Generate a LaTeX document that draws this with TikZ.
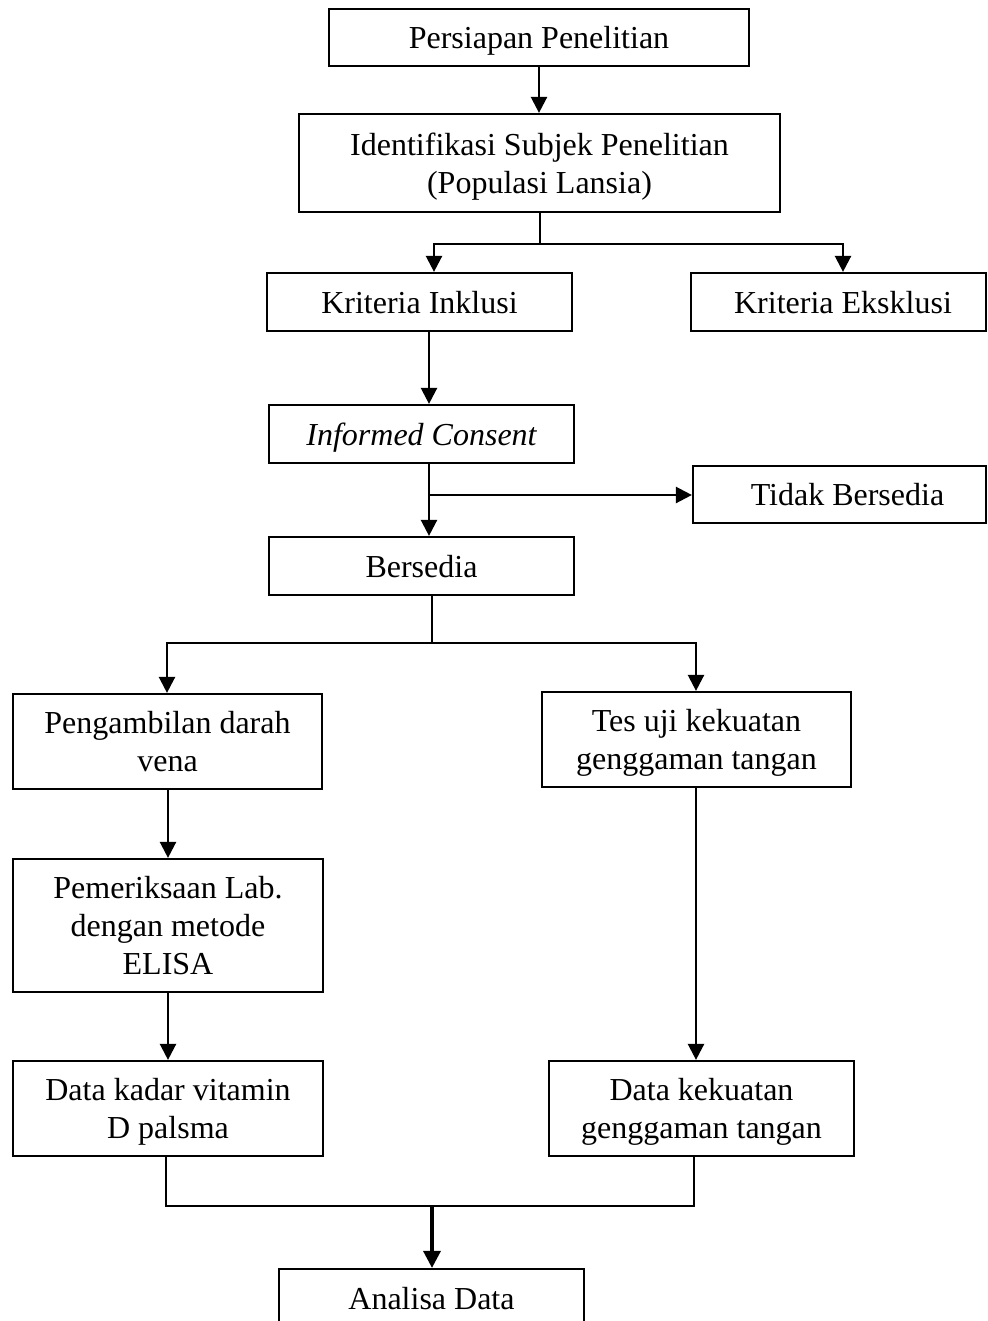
\documentclass[tikz,border=0pt]{standalone}
\usepackage{fontspec}
\setmainfont{Liberation Serif}
\usetikzlibrary{arrows.meta}
\begin{document}
\begin{tikzpicture}[x=0.5pt,y=-0.5pt,
  box/.style={draw=black,line width=1.1pt,inner sep=0pt,align=center,text depth=0pt,
    font=\fontsize{16pt}{19pt}\selectfont},
  ln/.style={draw=black,line width=1.2pt},
  arr/.style={ln,-{Triangle[width=8pt,length=8pt]}},
  thickarr/.style={draw=black,line width=1.7pt,-{Triangle[width=8.5pt,length=8.5pt]}}]
\useasboundingbox (0,0) rectangle (987,1321);
\clip (0,0) rectangle (987,1321);
\fill[white] (0,0) rectangle (987,1321);

\node[box,minimum width=210pt,minimum height=28.5pt] (persiapan) at (539,37.5) {Persiapan Penelitian};
\node[box,minimum width=240.5pt,minimum height=49pt] (ident) at (539.5,163) {Identifikasi Subjek Penelitian\\(Populasi Lansia)};
\node[box,minimum width=152.5pt,minimum height=29pt] (inklusi) at (419.5,302) {Kriteria Inklusi};
\node[box,minimum width=147.5pt,minimum height=29pt] (eksklusi) at (838.5,302) {\hspace*{4.5pt}Kriteria Eksklusi};
\node[box,minimum width=152.5pt,minimum height=29pt] (informed) at (421.5,434) {\itshape Informed Consent};
\node[box,minimum width=146.5pt,minimum height=28.5pt] (tidak) at (839.5,494.5) {\hspace*{8pt}Tidak Bersedia};
\node[box,minimum width=152.5pt,minimum height=29pt] (bersedia) at (421.5,566) {Bersedia};
\node[box,minimum width=154.5pt,minimum height=47.5pt] (ambil) at (167.5,741.5) {Pengambilan darah\\vena};
\node[box,minimum width=154.5pt,minimum height=47.5pt] (tes) at (696.5,739.5) {Tes uji kekuatan\\genggaman tangan};
\node[box,minimum width=155pt,minimum height=66.5pt] (periksa) at (168,925.5) {Pemeriksaan Lab.\\dengan metode\\ELISA};
\node[box,minimum width=155pt,minimum height=47.5pt] (kadar) at (168,1108.5) {Data kadar vitamin\\D palsma};
\node[box,minimum width=152.5pt,minimum height=47.5pt] (kekuatan) at (701.5,1108.5) {Data kekuatan\\genggaman tangan};
\node[box,minimum width=152.5pt,minimum height=29pt] (analisa) at (431.5,1298) {Analisa Data};

\coordinate (xa) at (539,0);
\coordinate (xb) at (540,244);
\coordinate (xinkl) at (434,0);
\coordinate (xeks) at (843,0);
\coordinate (xc) at (429,495);
\coordinate (xd) at (432,643);
\coordinate (xl) at (167,0);
\coordinate (xr) at (696,0);
\coordinate (xl2) at (168,0);
\coordinate (xk) at (166,0);
\coordinate (xm) at (694,0);
\coordinate (ym) at (432,1206);

\draw[arr] (persiapan.south -| xa) -- (ident.north -| xa);
\draw[ln] (ident.south -| xb) -- (xb);
\draw[arr] (xb) -| (inklusi.north -| xinkl);
\draw[arr] (xb) -| (eksklusi.north -| xeks);
\draw[arr] (inklusi.south -| xc) -- (informed.north -| xc);
\draw[arr] (informed.south -| xc) -- (bersedia.north -| xc);
\draw[arr] (xc) -- (tidak.west |- xc);
\draw[ln] (bersedia.south -| xd) -- (xd);
\draw[arr] (xd) -| (ambil.north -| xl);
\draw[arr] (xd) -| (tes.north -| xr);
\draw[arr] (ambil.south -| xl2) -- (periksa.north -| xl2);
\draw[arr] (periksa.south -| xl2) -- (kadar.north -| xl2);
\draw[arr] (tes.south -| xr) -- (kekuatan.north -| xr);
\draw[ln] (kadar.south -| xk) |- (ym) -| (kekuatan.south -| xm);
\draw[thickarr] (ym) -- (analisa.north -| ym);
\end{tikzpicture}
\end{document}
